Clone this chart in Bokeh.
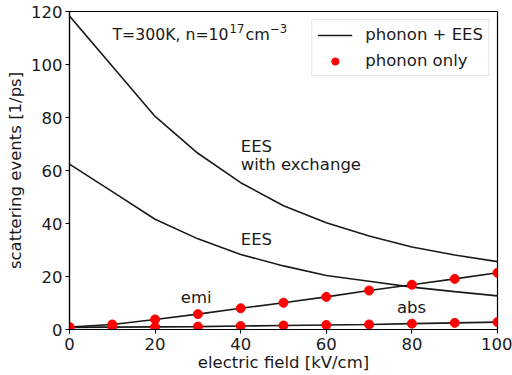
from bokeh.plotting import figure
from bokeh.models import Range1d, Legend, LegendItem, Label
from bokeh.embed import file_html
from bokeh.resources import INLINE

field = [0, 10, 20, 30, 40, 50, 60, 70, 80, 90, 100]
ees_exchange = [118.3, 99.3, 80.4, 66.5, 55.4, 46.7, 40.3, 35.3, 31.1, 28.1, 25.6]
ees = [62.4, 52.0, 41.6, 34.2, 28.3, 24.0, 20.4, 18.2, 16.0, 14.3, 12.7]
emi = [0.9, 1.9, 3.8, 5.8, 8.0, 10.1, 12.3, 14.7, 16.9, 19.1, 21.4]
absn = [0.8, 0.9, 1.0, 1.1, 1.3, 1.5, 1.7, 1.9, 2.2, 2.5, 2.8]
emi_ph = [0.9, 1.9, 3.8, 5.8, 8.0, 10.1, 12.3, 14.7, 16.9, 19.1, 21.4]
abs_ph = [0.8, 0.9, 1.0, 1.1, 1.3, 1.5, 1.7, 1.9, 2.2, 2.5, 2.8]
x_ticks = [0, 20, 40, 60, 80, 100]
y_ticks = [0, 20, 40, 60, 80, 100, 120]

FONT = "DejaVu Sans"
FS = "16.5px"
TC = "#1a1a1a"

p = figure(width=512, height=375, output_backend="svg", toolbar_location=None,
           x_range=Range1d(0, 100), y_range=Range1d(0, 120),
           min_border_left=69, min_border_right=15, min_border_top=11, min_border_bottom=46)
p.xgrid.visible = False
p.ygrid.visible = False
p.outline_line_color = "black"
p.outline_line_width = 1.2
p.background_fill_color = "white"
p.border_fill_color = "white"

for ax in (p.xaxis[0], p.yaxis[0]):
    ax.axis_line_color = "black"
    ax.axis_line_width = 1.2
    ax.major_tick_line_color = "black"
    ax.major_tick_out = 4
    ax.major_tick_in = 0
    ax.minor_tick_line_color = None
    ax.major_label_text_font = FONT
    ax.major_label_text_font_size = FS
    ax.major_label_text_color = TC
    ax.axis_label_text_font = FONT
    ax.axis_label_text_font_size = FS
    ax.axis_label_text_font_style = "normal"
    ax.axis_label_text_color = TC
p.xaxis.ticker = x_ticks
p.yaxis.ticker = y_ticks
p.xaxis.axis_label = "electric field [kV/cm]"
p.yaxis.axis_label = "scattering events [1/ps]"
p.xaxis.major_label_standoff = 4
p.yaxis.major_label_standoff = 3
p.xaxis.axis_label_standoff = 0
p.yaxis.axis_label_standoff = 3

lc = "#1a1a1a"
r_line = p.line(field, ees_exchange, line_color=lc, line_width=1.6)
p.line(field, ees, line_color=lc, line_width=1.6)
p.line(field, emi, line_color=lc, line_width=1.6)
p.line(field, absn, line_color=lc, line_width=1.6)
r_dot = p.scatter(field, emi_ph, size=9, color="red", line_color="red")
p.scatter(field, abs_ph, size=9, color="red", line_color="red")

def lab(x, y, t, fs=FS):
    p.add_layout(Label(x=x, y=y, text=t, text_font=FONT, text_font_size=fs,
                       text_color=TC, text_baseline="middle", text_align="left"))

# title-like annotation with superscripts
lab(10.05, 111.4, "T=300K, n=10", "15.7px")
lab(37.4, 113.7, "17", "11.5px")
lab(41.1, 111.4, "cm", "16px")
lab(46.9, 113.7, "\u22123", "11.5px")

lab(40.0, 69.2, "EES")
lab(40.0, 62.4, "with exchange")
lab(40.0, 34.0, "EES")
lab(26.0, 12.1, "emi")
lab(76.5, 8.4, "abs")

legend = Legend(items=[LegendItem(label="phonon + EES", renderers=[r_line]),
                       LegendItem(label="phonon only", renderers=[r_dot])],
                location="top_right")
legend.label_text_font = FONT
legend.label_text_font_size = FS
legend.label_text_color = TC
legend.border_line_color = "#cccccc"
legend.border_line_width = 1
legend.background_fill_alpha = 0.8
legend.margin = 8
legend.padding = 5
legend.spacing = 7
legend.glyph_width = 35
legend.glyph_height = 18
legend.label_height = 18
legend.label_standoff = 13
p.add_layout(legend)

open("out.html", "w").write(file_html(p, INLINE))
